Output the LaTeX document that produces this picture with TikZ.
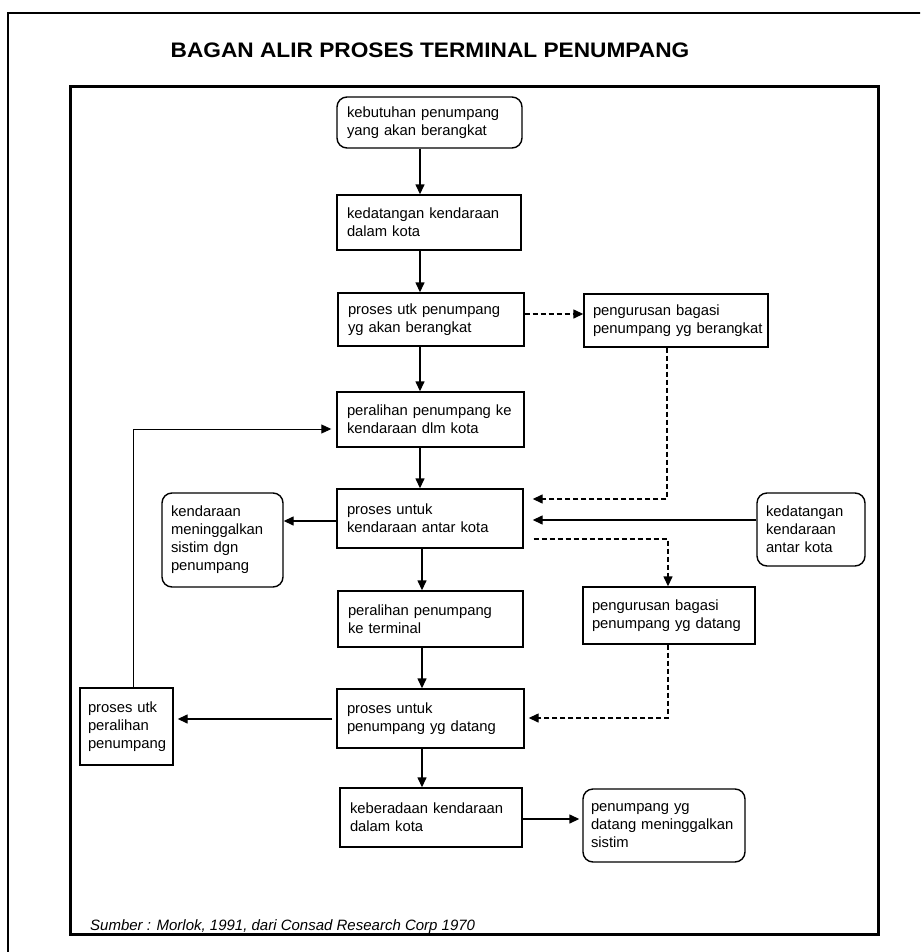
\documentclass[tikz,border=0pt]{standalone}
\usepackage{fontspec}
\setmainfont{Liberation Sans}
\newfontfamily\titlefont{Liberation Sans}[FakeStretch=1.08]
\usetikzlibrary{arrows.meta,calc}

\begin{document}
\begin{tikzpicture}[x=1pt,y=-1pt,
  box/.style={draw,line width=1.4pt,align=left,inner xsep=10pt,inner ysep=0pt,
    font=\fontsize{14.8}{18}\selectfont},
  rbox/.style={box,rounded corners=10pt},
  flow/.style={line width=1.4pt,-{Triangle[length=10pt,width=9pt]}},
  dflow/.style={flow,dash pattern=on 5pt off 3pt},
  thinflow/.style={line width=0.9pt,-{Triangle[length=10pt,width=9pt]}}]
\useasboundingbox (0,0) rectangle (920,952);
\clip (0,0) rectangle (920,952);

% frames
\draw[line width=2pt] (8,970) -- (8,13) -- (940,13);
\draw[line width=3pt] (70,87) rectangle (878,934);

% title and source
\node[font=\titlefont\bfseries\fontsize{21}{25}\selectfont,anchor=base,inner sep=0pt]
  (title) at (430,58) {BAGAN ALIR PROSES TERMINAL PENUMPANG};
\node[font=\itshape\fontsize{15}{17}\selectfont,anchor=base west,inner sep=0pt]
  (src) at (90,930) {Sumber : Morlok, 1991, dari Consad Research Corp 1970};

% central column
\node[rbox,minimum height=51pt,text width=165pt] (b1) at (429.5,122.5)
  {\mbox{kebutuhan penumpang}\\\mbox{yang akan berangkat}};
\node[box,minimum height=55pt,text width=164pt] (b2) at (429,222.5)
  {\mbox{kedatangan kendaraan}\\\mbox{dalam kota}};
\node[box,minimum height=53pt,text width=166pt] (b3) at (431,319.5)
  {\mbox{proses utk penumpang}\\\mbox{yg akan berangkat}};
\node[box,minimum height=55pt,text width=167pt] (b5) at (430.5,419.5)
  {\mbox{peralihan penumpang ke}\\\mbox{kendaraan dlm kota}};
\node[box,minimum height=59pt,text width=166pt] (b6) at (430,518.5)
  {\mbox{proses untuk}\\\mbox{kendaraan antar kota}};
\node[box,minimum height=56pt,text width=165pt] (b9) at (430.5,619)
  {\mbox{peralihan penumpang}\\\mbox{ke terminal}};
\node[box,minimum height=59pt,text width=167pt] (b11) at (430.5,718.5)
  {\mbox{proses untuk}\\\mbox{penumpang yg datang}};
\node[box,minimum height=59pt,text width=162pt] (b13) at (431,817.5)
  {\mbox{keberadaan kendaraan}\\\mbox{dalam kota}};

% side boxes
\node[box,minimum height=53pt,text width=166pt,inner xsep=9pt] (b4) at (676,320.5)
  {\mbox{pengurusan bagasi}\\\mbox{penumpang yg berangkat}};
\node[rbox,minimum height=94pt,text width=103pt,inner xsep=9pt] (b7) at (222.5,540)
  {\mbox{kendaraan}\\\mbox{meninggalkan}\\\mbox{sistim dgn}\\\mbox{penumpang}};
\node[rbox,minimum height=73pt,text width=90pt,inner xsep=9pt] (b8) at (811,529.5)
  {\mbox{kedatangan}\\\mbox{kendaraan}\\\mbox{antar kota}};
\node[box,minimum height=57pt,text width=154pt,inner xsep=9pt] (b10) at (669,615.5)
  {\mbox{pengurusan bagasi}\\\mbox{penumpang yg datang}};
\node[box,minimum height=77pt,text width=77pt,inner xsep=8pt] (b12) at (126.5,726.5)
  {\mbox{proses utk}\\\mbox{peralihan}\\\mbox{penumpang}};
\node[rbox,minimum height=73pt,text width=146pt,inner xsep=8pt] (b14) at (664,825.5)
  {\mbox{penumpang yg}\\\mbox{datang meninggalkan}\\\mbox{sistim}};

% main downward flow
\coordinate (colA) at (420,0);
\coordinate (colB) at (422,0);
\draw[flow] (b1.south -| colA) -- (b2.north -| colA);
\draw[flow] (b2.south -| colA) -- (b3.north -| colA);
\draw[flow] (b3.south -| colA) -- (b5.north -| colA);
\draw[flow] (b5.south -| colA) -- (b6.north -| colA);
\draw[flow] (b6.south -| colB) -- (b9.north -| colB);
\draw[flow] (b9.south -| colB) -- (b11.north -| colB);
\draw[flow] (b11.south -| colB) -- (b13.north -| colB);

% baggage branches
\draw[dflow] (b3.east |- 0,314) -- (b4.west |- 0,314);
\draw[dflow] (b4.south -| 667,0) -- (667,499) -- ($(b6.east |- 0,499)+(9,0)$);
\draw[dflow] ($(b6.east |- 0,539)+(10,0)$) -- (668,539) -- (b10.north -| 668,0);
\draw[dflow] (b10.south -| 668,0) -- (668,718) -- ($(b11.east |- 0,718)+(4,0)$);

% side connections
\draw[flow] (b8.west |- 0,520) -- ($(b6.east |- 0,520)+(9,0)$);
\draw[flow] (b6.west |- 0,521) -- (b7.east |- 0,521);
\draw[flow] ($(b11.west |- 0,719)+(-4,0)$) -- ($(b12.east |- 0,719)+(4,0)$);
\draw[thinflow] (b12.north -| 133,0) -- (133,429) -- ($(b5.west |- 0,429)+(-5,0)$);
\draw[flow] (b13.east |- 0,819) -- ($(b14.west |- 0,819)+(-3,0)$);
\end{tikzpicture}
\end{document}
